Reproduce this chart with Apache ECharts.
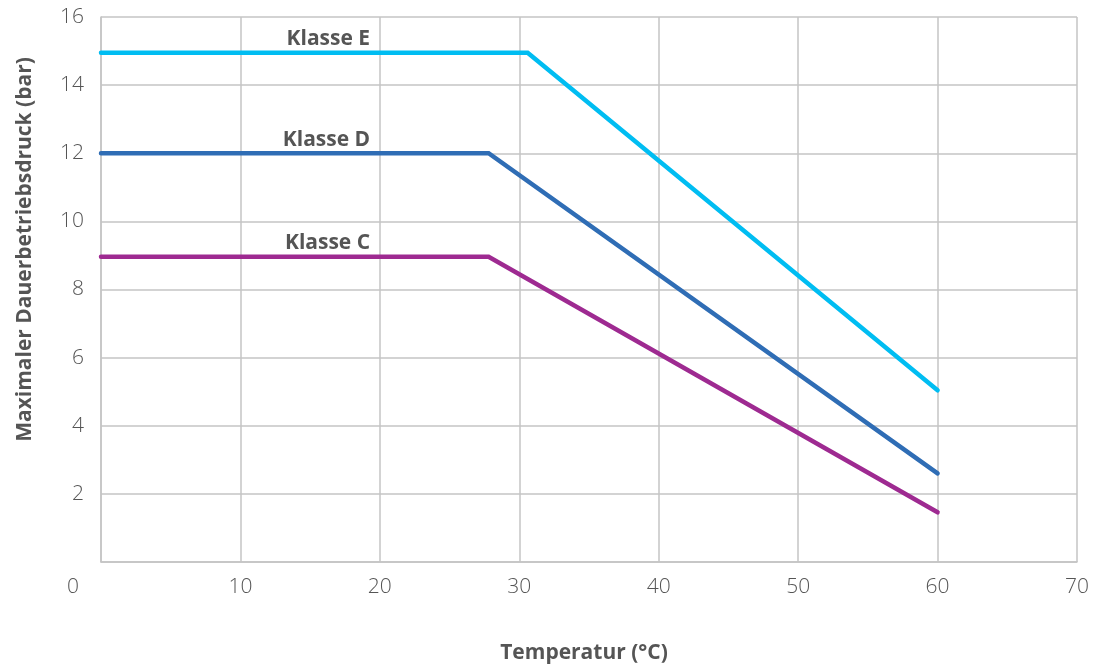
<!DOCTYPE html>
<html>
<head>
<meta charset="utf-8">
<script src="https://cdn.jsdelivr.net/npm/echarts@6/dist/echarts.min.js"></script>
<style>html,body{margin:0;padding:0;background:#fff}#c{width:1094px;height:669px}</style>
</head>
<body>
<div id="c"></div>
<script>
var xTicks = [0, 10, 20, 30, 40, 50, 60, 70];
var yTicks = [0, 2, 4, 6, 8, 10, 12, 14, 16];
var seriesNames = ['Klasse E', 'Klasse D', 'Klasse C'];
var klasseE = [[0, 14.95], [30.6, 14.95], [60, 5.04]];
var klasseD = [[0, 12.0], [27.8, 12.0], [60, 2.6]];
var klasseC = [[0, 8.96], [27.8, 8.96], [60, 1.46]];
var labelX = [19.3, 19.3, 19.3];
var colors = ['#00BDF2', '#2F6DB5', '#9E2A91'];

var dataSets = [klasseE, klasseD, klasseC];
var txt = '#555555';
var gridColor = '#C4C4C4';
var font = 'Open Sans';

var series = dataSets.map(function (d, i) {
  return {
    name: seriesNames[i],
    type: 'line',
    data: d,
    symbol: 'none',
    lineStyle: { color: colors[i], width: 4.5, cap: 'round', join: 'miter' },
    itemStyle: { color: colors[i] },
    silent: true,
    markPoint: {
      silent: true,
      symbol: 'circle',
      symbolSize: 0,
      data: [{
        coord: [labelX[i], d[0][1]],
        label: {
          show: true,
          formatter: seriesNames[i],
          position: 'inside',
          align: 'right',
          verticalAlign: 'bottom',
          offset: [0, -3],
          color: txt,
          fontFamily: font,
          fontWeight: 'bold',
          fontSize: 21
        }
      }]
    }
  };
});

var chart = echarts.init(document.getElementById('c'), null, { renderer: 'canvas' });
chart.setOption({
  animation: false,
  backgroundColor: '#ffffff',
  grid: { left: 101, right: 17, top: 17, bottom: 107, containLabel: false, outerBoundsMode: 'none' },
  xAxis: {
    type: 'value',
    min: xTicks[0], max: xTicks[xTicks.length - 1], interval: 10,
    name: 'Temperatur (°C)',
    nameLocation: 'middle',
    nameGap: 81,
    nameTextStyle: { color: txt, fontFamily: font, fontWeight: 'bold', fontSize: 21, padding: [0, 10, 0, 0] },
    axisLine: { show: true, lineStyle: { color: gridColor, width: 1.5 } },
    axisTick: { show: false },
    splitLine: { show: true, lineStyle: { color: gridColor, width: 1.5 } },
    axisLabel: {
      color: txt, fontFamily: font, fontWeight: 300, fontSize: 21, margin: 15,
      formatter: function (v) { return v === 0 ? '{z|0}' : String(v); },
      rich: { z: { color: txt, fontFamily: font, fontWeight: 300, fontSize: 21, padding: [0, 56, 0, 0] } }
    }
  },
  yAxis: {
    type: 'value',
    min: yTicks[0], max: yTicks[yTicks.length - 1], interval: 2,
    name: 'Maximaler Dauerbetriebsdruck (bar)',
    nameLocation: 'middle',
    nameGap: 65,
    nameRotate: 90,
    nameTextStyle: { color: txt, fontFamily: font, fontWeight: 'bold', fontSize: 21, padding: [0, 0, 0, 80] },
    axisLine: { show: true, lineStyle: { color: gridColor, width: 1.5 } },
    axisTick: { show: false },
    splitLine: { show: true, lineStyle: { color: gridColor, width: 1.5 } },
    axisLabel: {
      color: txt, fontFamily: font, fontWeight: 300, fontSize: 21, margin: 17,
      formatter: function (v) { return v === 0 ? '' : String(v); }
    }
  },
  series: series
});
</script>
</body>
</html>
